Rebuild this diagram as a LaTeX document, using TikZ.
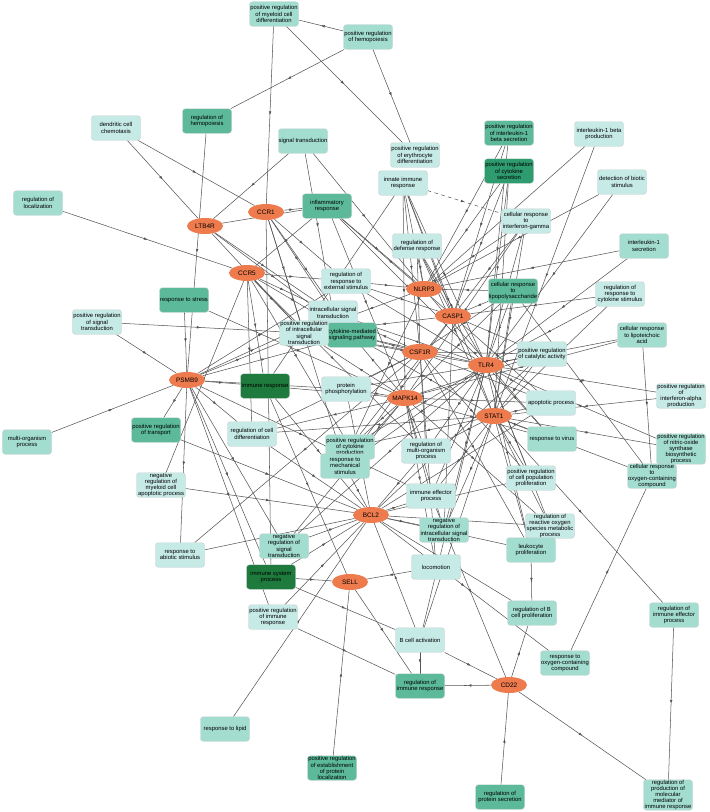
\documentclass[tikz,border=0pt]{standalone}
\usepackage{fontspec}
\setmainfont{Liberation Sans}
\usepackage{tikz}
\usetikzlibrary{arrows.meta,shapes.geometric,backgrounds,decorations.markings}
\definecolor{geneorange}{HTML}{EE7B4D}
\definecolor{termpale}{HTML}{C6EAE6}
\definecolor{termlight}{HTML}{A2DDD0}
\definecolor{termmid}{HTML}{5CBA9B}
\definecolor{termdeep}{HTML}{2E9C6E}
\definecolor{termdark}{HTML}{1E7A3D}
\definecolor{termline}{HTML}{C4CFCD}
\definecolor{linkgray}{HTML}{555555}

\begin{document}
\begin{tikzpicture}[x=0.03cm,y=-0.03cm,
      gene/.style={ellipse,fill=geneorange,draw=none,minimum width=1.08cm,minimum height=0.48cm,inner sep=0pt,font=\fontsize{5.5}{6}\selectfont},
      term/.style={draw=termline,line width=0.4pt,rounded corners=2.5pt,minimum width=1.47cm,minimum height=0.735cm,inner sep=0pt,align=center,font=\fontsize{5}{5.3}\selectfont},
      paleterm/.style={term,fill=termpale},
      lightterm/.style={term,fill=termlight},
      midterm/.style={term,fill=termmid},
      deepterm/.style={term,fill=termdeep},
      darkterm/.style={term,fill=termdark},
      link/.style={draw=linkgray,line width=0.45pt,postaction={decorate},
        decoration={markings,mark=at position 0.5 with {\arrow[solid]{Latex[length=1.1mm,width=0.8mm]}}}}
    ]
      \useasboundingbox (0,0) rectangle (710,812);

      % GO terms
      \node[lightterm] (mydiff) at (274,14) {positive regulation\\of myeloid cell\\differentiation};
      \node[lightterm] (phemo) at (368,37) {positive regulation\\of hemopoiesis};
      \node[paleterm] (dcchem) at (116,128) {dendritic cell\\chemotaxis};
      \node[midterm] (reghemo) at (207,121) {regulation of\\hemopoiesis};
      \node[lightterm] (regloc) at (38,203) {regulation of\\localization};
      \node[lightterm] (sigtr) at (303,141) {signal transduction};
      \node[paleterm] (erythro) at (415,155) {positive regulation\\of erythrocyte\\differentiation};
      \node[paleterm] (innate) at (403,183) {innate immune\\response};
      \node[midterm] (infl) at (327,206) {inflammatory\\response};
      \node[paleterm] (regdef) at (417,246) {regulation of\\defense response};
      \node[paleterm] (regext) at (346,281) {regulation of\\response to\\external stimulus};
      \node[midterm] (pil1b) at (509,133) {positive regulation\\of interleukin-1\\beta secretion};
      \node[deepterm] (pcytsec) at (509,171) {positive regulation\\of cytokine\\secretion};
      \node[paleterm] (il1bprod) at (599,134) {interleukin-1 beta\\production};
      \node[paleterm] (detbio) at (622,182) {detection of biotic\\stimulus};
      \node[paleterm] (ifng) at (526,221) {cellular response\\to\\interferon-gamma};
      \node[lightterm] (il1sec) at (644,246) {interleukin-1\\secretion};
      \node[midterm] (rstress) at (184,300) {response to stress};
      \node[paleterm] (prst) at (97,322) {positive regulation\\of signal\\transduction};
      \node[midterm] (ptrans) at (156,430) {positive regulation\\of transport};
      \node[lightterm] (mop) at (27,442) {multi-organism\\process};
      \node[paleterm] (nmca) at (161,485) {negative\\regulation of\\myeloid cell\\apoptotic process};
      \node[paleterm] (rcd) at (252,434) {regulation of cell\\differentiation};
      \node[paleterm] (istr) at (333,313) {intracellular signal\\transduction};
      \node[midterm] (cmsp) at (352,335) {cytokine-mediated\\signaling pathway};
      \node[paleterm] (pristr) at (304,333) {positive regulation\\of intracellular\\signal\\transduction};
      \node[darkterm] (imresp) at (265,386) {immune response};
      \node[paleterm] (pphos) at (346,389) {protein\\phosphorylation};
      \node[lightterm] (pcytprod) at (350,447) {positive regulation\\of cytokine\\production};
      \node[lightterm] (rmech) at (345,466) {response to\\mechanical\\stimulus};
      \node[paleterm] (rmop) at (426,451) {regulation of\\multi-organism\\process};
      \node[paleterm] (iep) at (431,496) {immune effector\\process};
      \node[lightterm] (nrist) at (444,530) {negative\\regulation of\\intracellular signal\\transduction};
      \node[lightterm] (nrst) at (284,546) {negative\\regulation of\\signal\\transduction};
      \node[midterm] (lps) at (513,291) {cellular response\\to\\lipopolysaccharide};
      \node[paleterm] (regcyt) at (620,294) {regulation of\\response to\\cytokine stimulus};
      \node[lightterm] (lta) at (642,335) {cellular response\\to lipoteichoic\\acid};
      \node[paleterm] (pcat) at (542,354) {positive regulation\\of catalytic activity};
      \node[paleterm] (ifna) at (681,396) {positive regulation\\of\\interferon-alpha\\production};
      \node[paleterm] (apop) at (551,403) {apoptotic process};
      \node[lightterm] (virus) at (552,439) {response to virus};
      \node[lightterm] (nos) at (681,449) {positive regulation\\of nitric-oxide\\synthase\\biosynthetic\\process};
      \node[lightterm] (cro) at (652,476) {cellular response\\to\\oxygen-containing\\compound};
      \node[paleterm] (pcpp) at (531,478) {positive regulation\\of cell population\\proliferation};
      \node[paleterm] (ros) at (550,526) {regulation of\\reactive oxygen\\species metabolic\\process};
      \node[lightterm] (lprol) at (531,550) {leukocyte\\proliferation};
      \node[paleterm] (abiotic) at (180,555) {response to\\abiotic stimulus};
      \node[lightterm] (rlipid) at (225,729) {response to lipid};
      \node[darkterm] (isp) at (271,577) {immune system\\process};
      \node[paleterm] (prir) at (273,617) {positive regulation\\of immune\\response};
      \node[paleterm] (bca) at (420,640) {B cell activation};
      \node[paleterm] (locom) at (436,567) {locomotion};
      \node[midterm] (rir) at (420,686) {regulation of\\immune response};
      \node[midterm] (pepl) at (332,768) {positive regulation\\of establishment\\of protein\\localization};
      \node[lightterm] (rbcp) at (532,613) {regulation of B\\cell proliferation};
      \node[lightterm] (riep) at (674,615) {regulation of\\immune effector\\process};
      \node[lightterm] (roc) at (565,663) {response to\\oxygen-containing\\compound};
      \node[midterm] (rps) at (500,797) {regulation of\\protein secretion};
      \node[lightterm] (rpmm) at (668,795) {regulation of\\production of\\molecular\\mediator of\\immune response};

      % genes
      \node[gene] (ltb4r) at (205,226) {LTB4R};
      \node[gene] (ccr1) at (266,212) {CCR1};
      \node[gene] (ccr5) at (247,273) {CCR5};
      \node[gene] (psmb9) at (187,380) {PSMB9};
      \node[gene] (nlrp3) at (424,289) {NLRP3};
      \node[gene] (casp1) at (453,316) {CASP1};
      \node[gene] (csf1r) at (420,352) {CSF1R};
      \node[gene] (tlr4) at (486,365) {TLR4};
      \node[gene] (mapk14) at (405,398) {MAPK14};
      \node[gene] (stat1) at (494,416) {STAT1};
      \node[gene] (bcl2) at (371,515) {BCL2};
      \node[gene] (sell) at (350,582) {SELL};
      \node[gene] (cd22) at (509,685) {CD22};

      \begin{scope}[on background layer]
      \fill[white] (0,0) rectangle (710,812);
      % term to term
      \draw[link] (phemo) -- (mydiff);
      \draw[link] (mydiff) -- (erythro);
      \draw[link] (phemo) -- (reghemo);
      \draw[link] (phemo) -- (erythro);
      \draw[link] (sigtr) -- (istr);
      \draw[link] (prst) -- (pristr);
      \draw[link] (innate) -- (imresp);
      \draw[link,dashed] (innate) -- (ifng);
      \draw[link] (lps) -- (cro);
      \draw[link] (lta) -- (cro);
      \draw[link] (roc) -- (cro);
      \draw[link] (lprol) -- (rbcp);
      \draw[link] (riep) -- (rpmm);
      \draw[link] (bca) -- (rir);
      \draw[link] (prir) -- (rir);
      \draw[link] (isp) -- (bca);
      % LTB4R
      \draw[link] (dcchem) -- (ltb4r);
      \draw[link] (sigtr) -- (ltb4r);
      \draw[link] (ltb4r) -- (infl);
      \draw[link] (ltb4r) -- (istr);
      \draw[link] (ltb4r) -- (pristr);
      \draw[link] (ltb4r) -- (cmsp);
      % CCR1
      \draw[link] (mydiff) -- (ccr1);
      \draw[link] (dcchem) -- (ccr1);
      \draw[link] (ccr1) -- (infl);
      \draw[link] (ccr1) -- (regext);
      \draw[link] (ccr1) -- (istr);
      \draw[link] (ccr1) -- (pristr);
      \draw[link] (ccr1) -- (cmsp);
      \draw[link] (ccr1) -- (isp);
      \draw[link] (ccr1) -- (rmech);
      % CCR5
      \draw[link] (regloc) -- (ccr5);
      \draw[link] (infl) -- (ccr5);
      \draw[link] (ccr5) -- (regext);
      \draw[link] (ccr5) -- (istr);
      \draw[link] (ccr5) -- (pristr);
      \draw[link] (ccr5) -- (cmsp);
      \draw[link] (ccr5) -- (imresp);
      \draw[link] (nmca) -- (ccr5);
      \draw[link] (ccr5) -- (rmop);
      \draw[link] (ccr5) -- (rcd);
      \draw[link] (ccr5) -- (pcytprod);
      % PSMB9
      \draw[link] (reghemo) -- (psmb9);
      \draw[link] (mop) -- (psmb9);
      \draw[link] (prst) -- (psmb9);
      \draw[link] (psmb9) -- (ptrans);
      \draw[link] (rstress) -- (psmb9);
      \draw[link] (psmb9) -- (imresp);
      \draw[link] (psmb9) -- (rcd);
      \draw[link] (psmb9) -- (istr);
      \draw[link] (psmb9) -- (pristr);
      \draw[link] (psmb9) -- (cmsp);
      \draw[link] (psmb9) -- (regext);
      \draw[link] (psmb9) -- (nrst);
      \draw[link] (psmb9) -- (isp);
      \draw[link] (psmb9) -- (prir);
      \draw[link] (psmb9) -- (abiotic);
      \draw[link] (psmb9) -- (pphos);
      \draw[link] (psmb9) -- (iep);
      % NLRP3
      \draw[link] (sigtr) -- (nlrp3);
      \draw[link] (innate) -- (nlrp3);
      \draw[link] (regdef) -- (nlrp3);
      \draw[link] (regext) -- (nlrp3);
      \draw[link] (pil1b) -- (nlrp3);
      \draw[link] (pcytsec) -- (nlrp3);
      \draw[link] (il1bprod) -- (nlrp3);
      \draw[link] (detbio) -- (nlrp3);
      \draw[link] (ifng) -- (nlrp3);
      \draw[link] (il1sec) -- (nlrp3);
      \draw[link] (lps) -- (nlrp3);
      \draw[link] (infl) -- (nlrp3);
      \draw[link] (nlrp3) -- (pristr);
      \draw[link] (nlrp3) -- (pcytprod);
      \draw[link] (nlrp3) -- (virus);
      % CASP1
      \draw[link] (innate) -- (casp1);
      \draw[link] (regdef) -- (casp1);
      \draw[link] (regext) -- (casp1);
      \draw[link] (pil1b) -- (casp1);
      \draw[link] (pcytsec) -- (casp1);
      \draw[link] (ifng) -- (casp1);
      \draw[link] (lps) -- (casp1);
      \draw[link] (regcyt) -- (casp1);
      \draw[link] (casp1) -- (pcat);
      \draw[link] (casp1) -- (apop);
      \draw[link] (infl) -- (casp1);
      \draw[link] (casp1) -- (pcytprod);
      \draw[link] (casp1) -- (rmech);
      \draw[link] (casp1) -- (nrist);
      \draw[link] (casp1) -- (pristr);
      % CSF1R
      \draw[link] (innate) -- (csf1r);
      \draw[link] (regdef) -- (csf1r);
      \draw[link] (lps) -- (csf1r);
      \draw[link] (csf1r) -- (pcat);
      \draw[link] (csf1r) -- (apop);
      \draw[link] (csf1r) -- (istr);
      \draw[link] (csf1r) -- (pristr);
      \draw[link] (csf1r) -- (cmsp);
      \draw[link] (csf1r) -- (pphos);
      \draw[link] (csf1r) -- (rcd);
      \draw[link] (csf1r) -- (rmop);
      \draw[link] (csf1r) -- (pcpp);
      \draw[link] (csf1r) -- (lprol);
      \draw[link] (csf1r) -- (abiotic);
      \draw[link] (csf1r) -- (locom);
      % TLR4
      \draw[link] (innate) -- (tlr4);
      \draw[link] (regdef) -- (tlr4);
      \draw[link] (regext) -- (tlr4);
      \draw[link] (pil1b) -- (tlr4);
      \draw[link] (pcytsec) -- (tlr4);
      \draw[link] (detbio) -- (tlr4);
      \draw[link] (ifng) -- (tlr4);
      \draw[link] (il1sec) -- (tlr4);
      \draw[link] (lps) -- (tlr4);
      \draw[link] (regcyt) -- (tlr4);
      \draw[link] (lta) -- (tlr4);
      \draw[link] (tlr4) -- (pcat);
      \draw[link] (ifna) -- (tlr4);
      \draw[link] (tlr4) -- (apop);
      \draw[link] (tlr4) -- (virus);
      \draw[link] (nos) -- (tlr4);
      \draw[link] (tlr4) -- (istr);
      \draw[link] (tlr4) -- (pristr);
      \draw[link] (tlr4) -- (cmsp);
      \draw[link] (tlr4) -- (pphos);
      \draw[link] (tlr4) -- (pcytprod);
      \draw[link] (tlr4) -- (rmech);
      \draw[link] (tlr4) -- (rmop);
      \draw[link] (tlr4) -- (iep);
      \draw[link] (tlr4) -- (nrist);
      \draw[link] (tlr4) -- (pcpp);
      \draw[link] (tlr4) -- (ros);
      \draw[link] (tlr4) -- (lprol);
      \draw[link] (tlr4) -- (bca);
      \draw[link] (infl) -- (tlr4);
      \draw[link] (tlr4) -- (nrst);
      % MAPK14
      \draw[link] (infl) -- (mapk14);
      \draw[link] (rstress) -- (mapk14);
      \draw[link] (innate) -- (mapk14);
      \draw[link] (ifng) -- (mapk14);
      \draw[link] (lps) -- (mapk14);
      \draw[link] (lta) -- (mapk14);
      \draw[link] (mapk14) -- (pcat);
      \draw[link] (mapk14) -- (apop);
      \draw[link] (mapk14) -- (virus);
      \draw[link] (imresp) -- (mapk14);
      \draw[link] (pphos) -- (mapk14);
      \draw[link] (mapk14) -- (rcd);
      \draw[link] (mapk14) -- (pcytprod);
      \draw[link] (mapk14) -- (rmech);
      \draw[link] (mapk14) -- (rmop);
      \draw[link] (mapk14) -- (iep);
      \draw[link] (mapk14) -- (nrist);
      \draw[link] (mapk14) -- (ros);
      \draw[link] (mapk14) -- (istr);
      \draw[link] (mapk14) -- (pristr);
      \draw[link] (mapk14) -- (locom);
      \draw[link] (mapk14) -- (nrst);
      % STAT1
      \draw[link] (innate) -- (stat1);
      \draw[link] (regdef) -- (stat1);
      \draw[link] (pcytsec) -- (stat1);
      \draw[link] (il1bprod) -- (stat1);
      \draw[link] (ifng) -- (stat1);
      \draw[link] (lps) -- (stat1);
      \draw[link] (regcyt) -- (stat1);
      \draw[link] (stat1) -- (pcat);
      \draw[link] (ifna) -- (stat1);
      \draw[link] (stat1) -- (apop);
      \draw[link] (stat1) -- (virus);
      \draw[link] (nos) -- (stat1);
      \draw[link] (stat1) -- (cro);
      \draw[link] (stat1) -- (riep);
      \draw[link] (stat1) -- (pcpp);
      \draw[link] (stat1) -- (ros);
      \draw[link] (stat1) -- (rmop);
      \draw[link] (stat1) -- (iep);
      \draw[link] (stat1) -- (nrist);
      \draw[link] (stat1) -- (cmsp);
      \draw[link] (stat1) -- (rcd);
      \draw[link] (stat1) -- (pcytprod);
      \draw[link] (stat1) -- (bca);
      \draw[link] (stat1) -- (lprol);
      % BCL2
      \draw[link] (pcat) -- (bcl2);
      \draw[link] (apop) -- (bcl2);
      \draw[link] (pphos) -- (bcl2);
      \draw[link] (rcd) -- (bcl2);
      \draw[link] (rmech) -- (bcl2);
      \draw[link] (rmop) -- (bcl2);
      \draw[link] (bcl2) -- (iep);
      \draw[link] (bcl2) -- (nrist);
      \draw[link] (bcl2) -- (pcpp);
      \draw[link] (bcl2) -- (ros);
      \draw[link] (bcl2) -- (lprol);
      \draw[link] (bcl2) -- (rbcp);
      \draw[link] (bcl2) -- (roc);
      \draw[link] (rlipid) -- (bcl2);
      \draw[link] (abiotic) -- (bcl2);
      \draw[link] (nmca) -- (bcl2);
      \draw[link] (ptrans) -- (bcl2);
      \draw[link] (nrst) -- (bcl2);
      \draw[link] (isp) -- (bcl2);
      \draw[link] (prir) -- (bcl2);
      \draw[link] (bca) -- (bcl2);
      \draw[link] (imresp) -- (bcl2);
      % SELL
      \draw[link] (locom) -- (sell);
      \draw[link] (sell) -- (rir);
      \draw[link] (pepl) -- (sell);
      \draw[link] (imresp) -- (sell);
      \draw[link] (isp) -- (sell);
      % CD22
      \draw[link] (cd22) -- (rbcp);
      \draw[link] (cd22) -- (rpmm);
      \draw[link] (rps) -- (cd22);
      \draw[link] (cd22) -- (rir);
      \draw[link] (bca) -- (cd22);
      \draw[link] (iep) -- (cd22);
      \end{scope}
    \end{tikzpicture}
\end{document}
